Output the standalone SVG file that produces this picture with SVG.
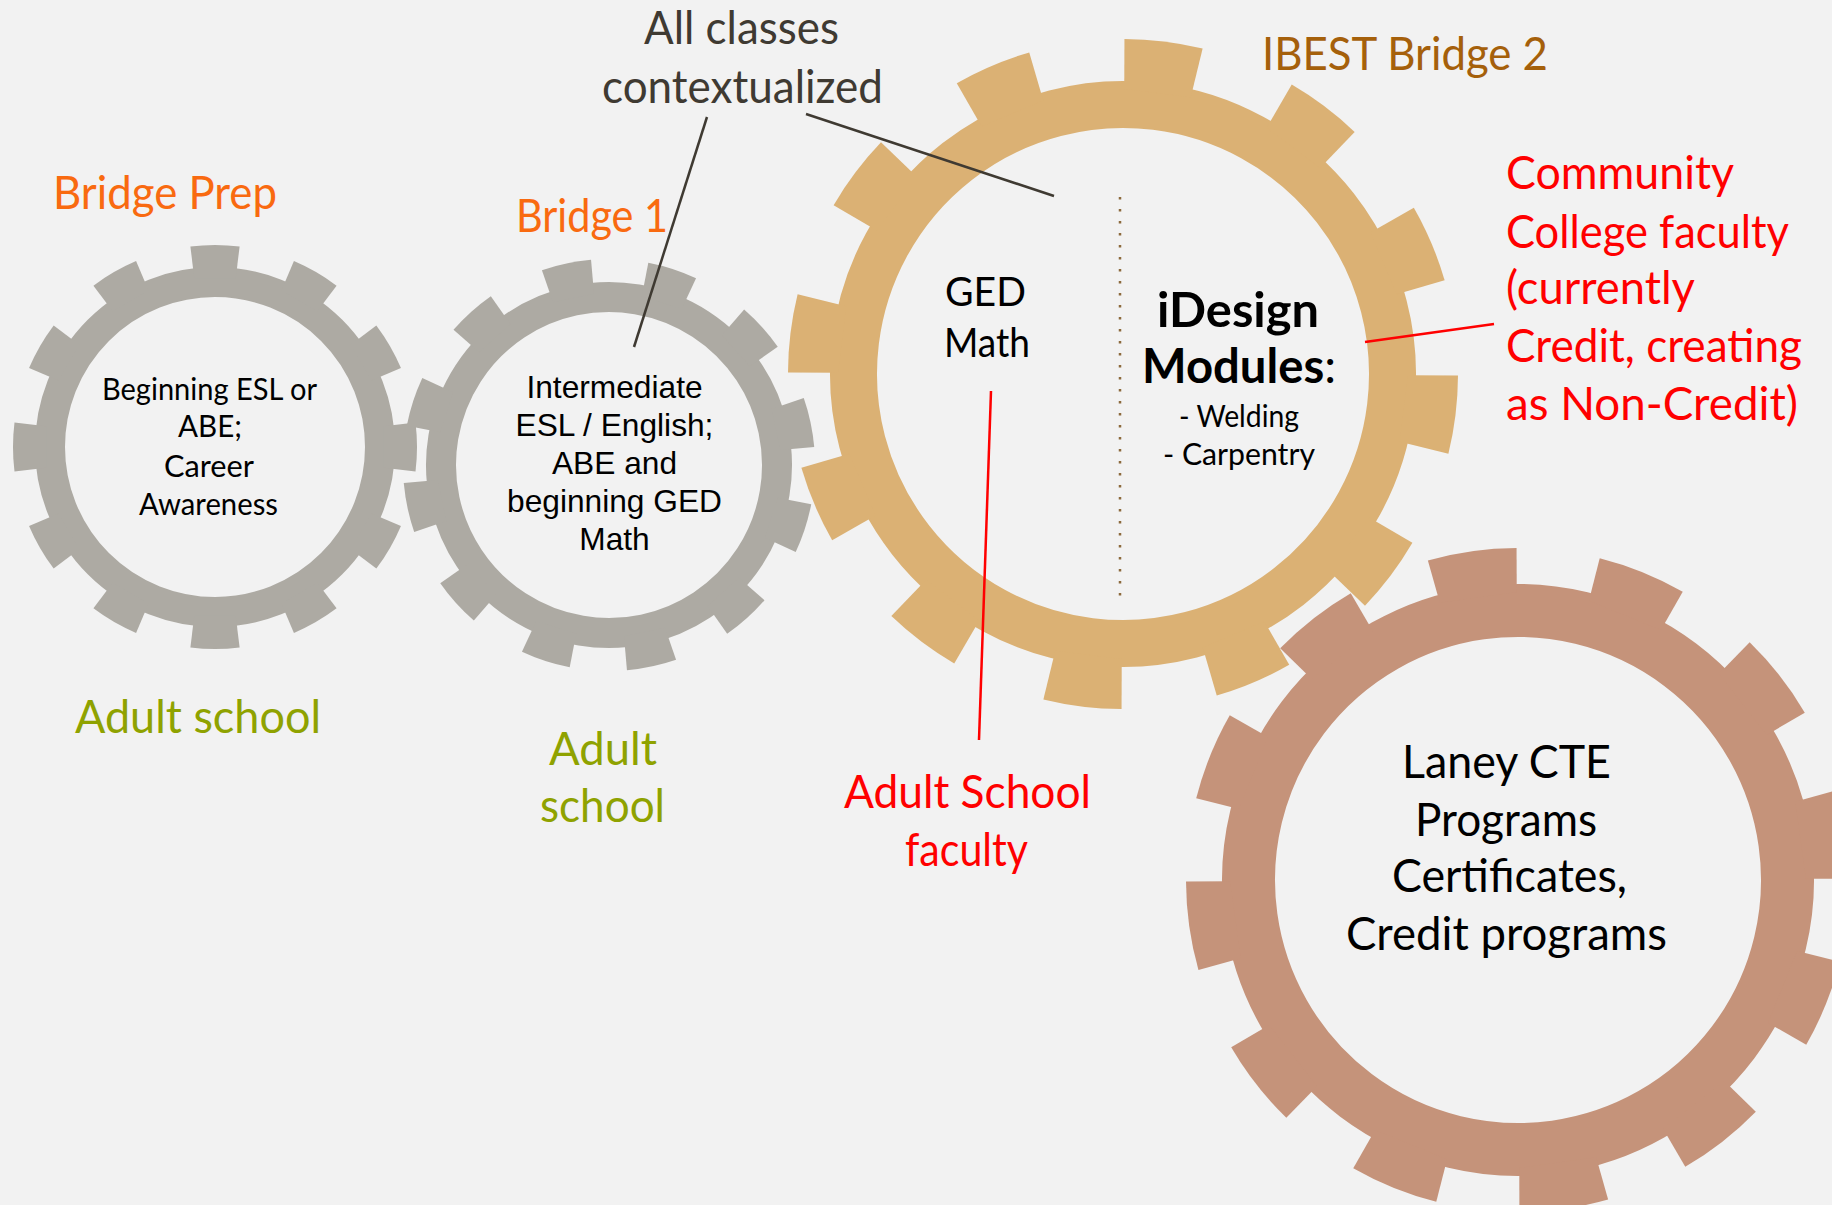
<svg xmlns="http://www.w3.org/2000/svg" xmlns:xlink="http://www.w3.org/1999/xlink" width="1832" height="1205" viewBox="0 0 1832 1205">
<style>
.gs{font-family:Lato,"Open Sans","Liberation Sans",sans-serif}
.ar{font-family:"Liberation Sans",Arial,sans-serif}
.big{font-size:46px}
.orange{fill:#F96A10}
.olive{fill:#8FA200}
.red{fill:#FF0000}
.dark{fill:#3F3A32}
.blk{fill:#000}
.gray{fill:#ADAAA3}
.tan{fill:#DBB174}
.brn{fill:#C5937A}
.ring-gray{fill:none;stroke:#ADAAA3;stroke-width:30}
.ring-tan{fill:none;stroke:#DBB174;stroke-width:47}
.ring-brn{fill:none;stroke:#C5937A;stroke-width:53}
.lnd{stroke:#3F3A32;stroke-width:2.5;fill:none}
.lnr{stroke:#FF0000;stroke-width:2.5;fill:none}
</style>
<defs>
<path id="t1" d="M-20.72 -168.73 L-24.62 -200.5 A202 202 0 0 1 24.62 -200.5 L20.72 -168.73 Z"/>
<path id="t2" d="M-20.96 -170.72 L-25.11 -204.47 A206 206 0 0 1 25.11 -204.47 L20.96 -170.72 Z"/>
<path id="t3" d="M-33.5 -283.03 L-39.38 -332.68 A335 335 0 0 1 39.38 -332.68 L33.5 -283.03 Z"/>
<path id="t4" d="M-38.84 -285.37 L-44.77 -328.97 A332 332 0 0 1 44.77 -328.97 L38.84 -285.37 Z"/>
<g id="teeth1"><use href="#t1"/><use href="#t1" transform="rotate(30)"/><use href="#t1" transform="rotate(60)"/><use href="#t1" transform="rotate(90)"/><use href="#t1" transform="rotate(120)"/><use href="#t1" transform="rotate(150)"/><use href="#t1" transform="rotate(180)"/><use href="#t1" transform="rotate(210)"/><use href="#t1" transform="rotate(240)"/><use href="#t1" transform="rotate(270)"/><use href="#t1" transform="rotate(300)"/><use href="#t1" transform="rotate(330)"/></g>
<g id="teeth2"><use href="#t2"/><use href="#t2" transform="rotate(30)"/><use href="#t2" transform="rotate(60)"/><use href="#t2" transform="rotate(90)"/><use href="#t2" transform="rotate(120)"/><use href="#t2" transform="rotate(150)"/><use href="#t2" transform="rotate(180)"/><use href="#t2" transform="rotate(210)"/><use href="#t2" transform="rotate(240)"/><use href="#t2" transform="rotate(270)"/><use href="#t2" transform="rotate(300)"/><use href="#t2" transform="rotate(330)"/></g>
<g id="teeth3"><use href="#t3"/><use href="#t3" transform="rotate(30)"/><use href="#t3" transform="rotate(60)"/><use href="#t3" transform="rotate(90)"/><use href="#t3" transform="rotate(120)"/><use href="#t3" transform="rotate(150)"/><use href="#t3" transform="rotate(180)"/><use href="#t3" transform="rotate(210)"/><use href="#t3" transform="rotate(240)"/><use href="#t3" transform="rotate(270)"/><use href="#t3" transform="rotate(300)"/><use href="#t3" transform="rotate(330)"/></g>
<g id="teeth4"><use href="#t4"/><use href="#t4" transform="rotate(30)"/><use href="#t4" transform="rotate(60)"/><use href="#t4" transform="rotate(90)"/><use href="#t4" transform="rotate(120)"/><use href="#t4" transform="rotate(150)"/><use href="#t4" transform="rotate(180)"/><use href="#t4" transform="rotate(210)"/><use href="#t4" transform="rotate(240)"/><use href="#t4" transform="rotate(270)"/><use href="#t4" transform="rotate(300)"/><use href="#t4" transform="rotate(330)"/></g>
</defs>
<rect width="1832" height="1205" fill="#F2F2F2"/>

<g id="gear-bridge-prep">
<g transform="translate(215,447)"><circle r="165" class="ring-gray"/><use href="#teeth1" class="gray"/></g>
<text class="gs orange big" x="53" y="209" textLength="224" lengthAdjust="spacingAndGlyphs">Bridge Prep</text>
<g class="gs blk" font-size="30">
<text x="102" y="400" textLength="215" lengthAdjust="spacingAndGlyphs">Beginning ESL or</text>
<text x="178" y="437" textLength="64" lengthAdjust="spacingAndGlyphs">ABE;</text>
<text x="164" y="477" textLength="90" lengthAdjust="spacingAndGlyphs">Career</text>
<text x="139" y="515" textLength="139" lengthAdjust="spacingAndGlyphs">Awareness</text>
</g>
<text class="gs olive big" x="75" y="733" textLength="246" lengthAdjust="spacingAndGlyphs">Adult school</text>
</g>

<g id="gear-bridge-1">
<g transform="translate(609,465) rotate(-12)"><circle r="168" class="ring-gray"/><use href="#teeth2" class="gray"/></g>
<text class="gs orange big" x="516" y="232" textLength="152" lengthAdjust="spacingAndGlyphs">Bridge 1</text>
<g class="ar blk" font-size="31.7" text-anchor="middle">
<text x="614.5" y="398">Intermediate</text>
<text x="614.5" y="436">ESL / English;</text>
<text x="614.5" y="474">ABE and</text>
<text x="614.5" y="512">beginning GED</text>
<text x="614.5" y="550">Math</text>
</g>
<text class="gs olive big" x="549" y="765" textLength="108" lengthAdjust="spacingAndGlyphs">Adult</text>
<text class="gs olive big" x="540" y="822" textLength="125" lengthAdjust="spacingAndGlyphs">school</text>
</g>

<g id="gear-ibest">
<g transform="translate(1123,374) rotate(7)"><circle r="269.5" class="ring-tan"/><use href="#teeth3" class="tan"/></g>
<text class="gs big" fill="#A5600B" x="1262" y="70" textLength="286" lengthAdjust="spacingAndGlyphs">IBEST Bridge 2</text>
<g class="gs blk" font-size="40">
<text x="945" y="306" textLength="81" lengthAdjust="spacingAndGlyphs">GED</text>
<text x="944" y="357" textLength="86" lengthAdjust="spacingAndGlyphs">Math</text>
</g>
<line x1="1120" y1="197" x2="1120" y2="600" stroke="#8C6A3C" stroke-width="2.5" stroke-dasharray="2.5 9.5"/>
<g class="gs blk">
<text x="1157" y="327" font-size="48" font-weight="bold" textLength="162" lengthAdjust="spacingAndGlyphs">iDesign</text>
<text x="1142" y="383" font-size="48" textLength="194" lengthAdjust="spacingAndGlyphs"><tspan font-weight="bold">Modules</tspan>:</text>
<text x="1179" y="427" font-size="30" textLength="120" lengthAdjust="spacingAndGlyphs">- Welding</text>
<text x="1163" y="465" font-size="30" textLength="152" lengthAdjust="spacingAndGlyphs">- Carpentry</text>
</g>
</g>

<g id="gear-laney">
<g transform="translate(1518,880) rotate(-8)"><circle r="269.5" class="ring-brn"/><use href="#teeth4" class="brn"/></g>
<g class="gs blk big">
<text x="1402" y="778" textLength="209" lengthAdjust="spacingAndGlyphs">Laney CTE</text>
<text x="1415" y="836" textLength="182" lengthAdjust="spacingAndGlyphs">Programs</text>
<text x="1392" y="892" textLength="235" lengthAdjust="spacingAndGlyphs">Certificates,</text>
<text x="1346" y="950" textLength="321" lengthAdjust="spacingAndGlyphs">Credit programs</text>
</g>
</g>

<g id="label-contextualized">
<text class="gs dark big" x="644" y="44" textLength="195" lengthAdjust="spacingAndGlyphs">All classes</text>
<text class="gs dark big" x="602" y="103" textLength="281" lengthAdjust="spacingAndGlyphs">contextualized</text>
</g>

<g id="label-cc-faculty" class="gs red big">
<text x="1506" y="189" textLength="228" lengthAdjust="spacingAndGlyphs">Community</text>
<text x="1506" y="248" textLength="283" lengthAdjust="spacingAndGlyphs">College faculty</text>
<text x="1506" y="304" textLength="189" lengthAdjust="spacingAndGlyphs">(currently</text>
<text x="1506" y="362" textLength="296" lengthAdjust="spacingAndGlyphs">Credit, creating</text>
<text x="1506" y="420" textLength="292" lengthAdjust="spacingAndGlyphs">as Non-Credit)</text>
</g>

<g id="label-as-faculty" class="gs red big">
<text x="844" y="808" textLength="247" lengthAdjust="spacingAndGlyphs">Adult School</text>
<text x="905" y="866" textLength="123" lengthAdjust="spacingAndGlyphs">faculty</text>
</g>

<g id="connectors">
<line class="lnd" x1="707" y1="117" x2="634" y2="347"/>
<line class="lnd" x1="806" y1="114" x2="1054" y2="196"/>
<line class="lnr" x1="1365" y1="342" x2="1494" y2="324"/>
<line class="lnr" x1="991" y1="391" x2="979" y2="740"/>
</g>
</svg>
